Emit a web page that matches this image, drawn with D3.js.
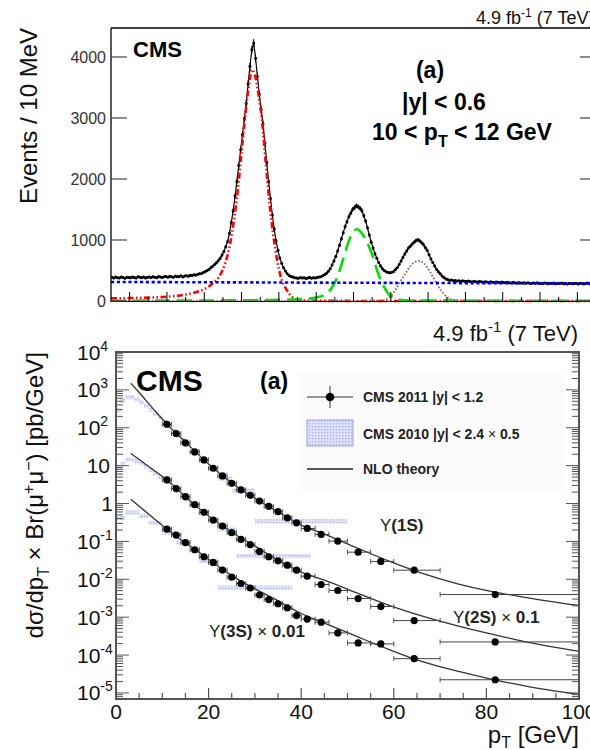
<!DOCTYPE html>
<html><head><meta charset="utf-8">
<script src="https://cdn.jsdelivr.net/npm/d3@7"></script>
<style>
body{margin:0;background:#fff}
svg{display:block;font-family:"Liberation Sans",Arial,Helvetica,sans-serif}
</style>
</head><body><svg id="c" width="590" height="750"></svg>
<script>
// ================= DATA: top panel (dimuon mass spectrum) =================
const massStart = 8.70;   // GeV, lower edge of first bin
const binWidth = 0.01;    // 10 MeV bins
const counts = [
 388,375,392,381,379,395,384,372,390,386,
 380,393,387,376,398,389,383,395,378,391,
 394,385,399,388,381,402,392,386,397,400,
 391,404,396,389,408,399,403,412,395,410,
 414,405,421,418,430,425,439,447,452,468,
 480,498,515,545,570,598,625,660,700,752,
 810,890,975,1110,1290,1480,1720,1960,2220,2480,
 2730,2990,3240,3560,3850,4120,4230,3980,3680,3390,
 3140,2900,2580,2270,1960,1680,1410,1180,985,830,
 705,620,545,490,445,420,400,392,383,378,
 372,385,376,381,369,378,388,374,383,379,
 386,392,398,415,432,455,488,530,590,655,
 730,820,915,1020,1120,1220,1300,1380,1440,1500,
 1530,1560,1545,1520,1480,1400,1310,1200,1080,965,
 870,775,700,630,575,530,500,478,468,462,
 470,485,515,550,600,655,715,770,820,868,
 900,935,965,990,1005,985,958,925,875,830,
 760,690,632,575,520,478,445,410,385,362,
 352,340,345,331,336,328,333,322,330,325,
 318,327,320,313,324,316,310,321,314,308,
 317,312,305,315,309,302,313,306,300,310,
 304,298,308,301,296,305,299,292,303,297,
 294,301,290,298,293,287,296,291,299,288,
 293,285,297,289,283,292,286,295,281,290,
 287,294,284,291,279,288,293,283,289,286,
 280,291,285,278,289,294,284,288,282,290
];
const compMass = [8.70,8.80,8.90,9.00,9.10,9.15,9.20,9.25,9.28,9.31,9.34,9.36,9.38,9.40,9.42,9.44,9.455,9.47,9.49,9.51,
 9.53,9.55,9.57,9.59,9.61,9.64,9.67,9.70,9.75,9.80,9.84,9.88,9.91,9.94,9.97,10.00,10.02,10.04,10.07,10.10,
 10.13,10.16,10.19,10.22,10.25,10.28,10.31,10.35,10.38,10.41,10.44,10.47,10.50,10.53,10.60,10.80,11.00,11.30];
const comp1S = [42,48,55,70,105,140,195,300,400,600,960,1350,1820,2450,3050,3550,3790,3720,3400,2950,
 2250,1600,1080,680,400,190,70,22,6,3,2,2,2,2,2,1,1,1,1,1,
 1,1,1,1,1,1,1,1,1,1,1,1,1,1,1,1,1,1];
const comp2S = [5,5,6,6,7,7,8,8,9,9,10,10,11,11,12,12,13,13,14,15,
 16,16,17,18,19,21,23,26,35,58,95,200,370,640,940,1140,1175,1130,980,760,
 470,250,110,45,20,12,9,8,7,7,6,6,6,5,5,4,4,3];
const comp3S = [1,1,1,1,1,1,1,1,1,1,1,1,1,1,1,1,1,1,1,1,
 1,1,1,1,1,2,2,2,2,2,2,2,2,2,2,2,2,2,3,4,
 6,12,50,160,316,460,590,656,610,480,320,170,70,25,6,2,1,1];
const compBkg = [312,311,310,309,308,308,307,307,307,306,306,306,306,305,305,305,305,305,304,304,
 304,304,304,303,303,303,303,302,302,301,301,300,300,300,299,299,299,299,298,298,
 298,297,297,297,296,296,296,295,295,295,295,294,294,294,293,291,290,288];
const countTicks = [0,1000,2000,3000,4000];

// ================= DATA: bottom panel (cross sections) =================
const ptLo2011 = [10,12,14,16,18,20,22,24,26,28,30,32,34,36,38,40,43,46,50,55,60,70];
const ptHi2011 = [12,14,16,18,20,22,24,26,28,30,32,34,36,38,40,43,46,50,55,60,70,100];
const ptMean2011 = [11,13,15,17,19,21,23,25,27,29,31,33,35,37,39,41.3,44.3,47.9,52.3,57.2,64.4,81.9];
const xs1S = [124,70.6,39.9,23.0,14.2,8.53,5.34,3.42,2.28,1.65,1.16,0.84,0.61,0.42,0.31,0.22,0.153,0.102,0.052,0.0296,0.0174,0.00396];
const xs2S = [4.19,2.48,1.52,0.935,0.585,0.366,0.254,0.170,0.113,0.0818,0.0543,0.0394,0.0308,0.0236,0.0174,0.0121,0.00728,0.00506,0.0031,0.00191,0.000813,0.000222];
const xs3S = [0.211,0.147,0.0924,0.0603,0.0394,0.0278,0.0176,0.0114,0.00774,0.00589,0.00385,0.00292,0.00226,0.00176,0.0011,0.00089,0.00074,0.000385,0.000209,0.000197,0.0000804,0.0000223];

const theoryPt = [3.2,5,8,11,15,20,25,30,35,40,45,52,59,66,74,81,88,100];
const theory1S = [1500,850,320,125,42,11.0,3.5,1.38,0.6,0.27,0.155,0.068,0.030,0.0145,0.0075,0.0048,0.0034,0.00203];
const theory2S = [21,14.6,7.8,4.2,1.52,0.47,0.175,0.075,0.032,0.0155,0.0095,0.0044,0.00205,0.00108,0.00058,0.00036,0.00023,0.000125];
const theory3S = [1.3,0.85,0.42,0.21,0.092,0.034,0.0125,0.0056,0.0027,0.00125,0.0007,0.00031,0.00014,0.000068,0.000037,0.0000233,0.0000155,0.000009];

const band1S_lo = [0,1,2,3,4,5,6,7,8,9,10,11,12,13,14,15,16,18,20,22,25,30];
const band1S_hi = [1,2,3,4,5,6,7,8,9,10,11,12,13,14,15,16,18,20,22,25,30,50];
const band1S_val = [290,520,640,640,560,470,380,300,235,185,145,110,82,62,46,35,24,14,8.6,4.6,2.2,0.34];
const band2S_lo = [0,1,2,3,4,5,6,7,8,9,10,11,12,13,14,15,16,18,20,22,26];
const band2S_hi = [1,2,3,4,5,6,7,8,9,10,11,12,13,14,15,16,18,20,22,26,42];
const band2S_val = [9,11,14.5,14.5,13,11.5,9.5,7.8,6.3,5,4.6,3.6,2.8,2.2,1.7,1.3,0.95,0.6,0.38,0.207,0.041];
const band3S_lo = [0,2,5,7,10,13,16,18,22];
const band3S_hi = [2,5,7,10,13,16,18,22,38];
const band3S_val = [0.41,0.58,0.47,0.31,0.17,0.095,0.061,0.030,0.006];

const ptTicks = [0,20,40,60,80,100];

// ================= DRAWING =================
const svg = d3.select("#c");
const defs = svg.append("defs");
defs.append("clipPath").attr("id","clipTop").append("rect")
  .attr("x",111).attr("y",20).attr("width",485).attr("height",283);
defs.append("clipPath").attr("id","clipBot").append("rect")
  .attr("x",116).attr("y",352).attr("width",463).attr("height",347);
const pat = defs.append("pattern").attr("id","dots").attr("patternUnits","userSpaceOnUse")
  .attr("width",3).attr("height",3);
pat.append("rect").attr("width",3).attr("height",3).attr("fill","#dfe1fa");
pat.append("rect").attr("width",1.3).attr("height",1.3).attr("fill","#a7acec");

// ---------- TOP PANEL ----------
const xm = d3.scaleLinear().domain([8.7, 11.3]).range([111, 596]);
const yc = d3.scaleLinear().domain([0, 4475]).range([301, 28]);
const gt = svg.append("g");

const pts = counts.map((c,i)=>({m: massStart + binWidth*(i+0.5), c}));
const gData = gt.append("g").attr("clip-path","url(#clipTop)");
gData.append("path").datum(pts)
  .attr("d", d3.line().x(d=>xm(d.m)).y(d=>yc(d.c)))
  .attr("fill","none").attr("stroke","#000").attr("stroke-width",1.2);
gData.selectAll("line.ev").data(pts).join("line").attr("class","ev")
  .attr("x1",d=>xm(d.m)).attr("x2",d=>xm(d.m))
  .attr("y1",d=>yc(d.c+Math.sqrt(d.c))).attr("y2",d=>yc(d.c-Math.sqrt(d.c)))
  .attr("stroke","#000").attr("stroke-width",1);
gData.selectAll("circle").data(pts).join("circle")
  .attr("cx",d=>xm(d.m)).attr("cy",d=>yc(d.c)).attr("r",1.5).attr("fill","#000");

const comps = [
  {v: comp1S, color:"#ff0000", dash:"6,2.5,1.5,2.5,1.5,2.5", w:2.6},
  {v: comp2S, color:"#00dd00", dash:"15,7", w:2.6},
  {v: comp3S, color:"#9c6c5a", dash:"1.6,1.8", w:2},
  {v: compBkg, color:"#0000ff", dash:"3.2,2.6", w:2.6}
];
const gComp = gt.append("g").attr("clip-path","url(#clipTop)");
comps.forEach(cp=>{
  gComp.append("path").datum(compMass.map((m,i)=>[m, cp.v[i]]))
    .attr("d", d3.line().x(d=>xm(d[0])).y(d=>yc(d[1])).curve(d3.curveMonotoneX))
    .attr("fill","none").attr("stroke",cp.color).attr("stroke-width",cp.w)
    .attr("stroke-dasharray",cp.dash);
});

// frame
gt.append("line").attr("x1",111).attr("x2",596).attr("y1",28).attr("y2",28).attr("stroke","#000").attr("stroke-width",1.3);
gt.append("line").attr("x1",111).attr("x2",111).attr("y1",28).attr("y2",302).attr("stroke","#000").attr("stroke-width",1.3);
gt.append("line").attr("x1",111).attr("x2",596).attr("y1",301.5).attr("y2",301.5).attr("stroke","#000").attr("stroke-width",1);
// y ticks
countTicks.forEach(t=>{
  const y = yc(t);
  gt.append("line").attr("x1",111).attr("x2",127).attr("y1",y).attr("y2",y).attr("stroke","#444").attr("stroke-width",1.2);
  gt.append("line").attr("x1",580).attr("x2",596).attr("y1",y).attr("y2",y).attr("stroke","#444").attr("stroke-width",1.2);
  gt.append("text").attr("x",106).attr("y",y).attr("dy","0.36em").attr("text-anchor","end")
    .attr("font-size",16).attr("fill","#333").text(t);
});
// x ticks (bottom)
d3.range(8.8, 11.3, 0.1).forEach(m=>{
  const major = Math.abs(m*5 - Math.round(m*5)) < 1e-6;
  gt.append("line").attr("x1",xm(m)).attr("x2",xm(m)).attr("y1",301).attr("y2",301-(major?9:4))
    .attr("stroke","#000").attr("stroke-width",1);
});
// texts
gt.append("text").attr("x",133).attr("y",57).attr("font-size",22).attr("font-weight","bold").text("CMS");
gt.append("text").attr("x",430).attr("y",78).attr("text-anchor","middle").attr("font-size",23).attr("font-weight","bold").text("(a)");
gt.append("text").attr("x",444).attr("y",110).attr("text-anchor","middle").attr("font-size",23).attr("font-weight","bold").text("|y| < 0.6");
const tpt = gt.append("text").attr("x",462).attr("y",140).attr("text-anchor","middle").attr("font-size",23).attr("font-weight","bold");
tpt.append("tspan").text("10 < p");
tpt.append("tspan").attr("font-size",16).attr("dy",7).text("T");
tpt.append("tspan").attr("dy",-7).text(" < 12 GeV");
const tl = gt.append("text").attr("x",476).attr("y",24).attr("font-size",18).attr("fill","#111");
tl.append("tspan").text("4.9 fb");
tl.append("tspan").attr("font-size",12).attr("dy",-7).text("-1");
tl.append("tspan").attr("dy",7).text(" (7 TeV)");
gt.append("text").attr("transform","translate(37,28) rotate(-90)").attr("text-anchor","end")
  .attr("font-size",24).attr("fill","#111").text("Events / 10 MeV");

// ---------- BOTTOM PANEL ----------
const xp = d3.scaleLinear().domain([0,100]).range([116,579]);
const yl = d3.scaleLog().domain([Math.pow(10,-5.16), 1e4]).range([699,352]);
const gb = svg.append("g");

// legend background
gb.append("rect").attr("x",298).attr("y",372).attr("width",266).attr("height",118).attr("fill","#fbfbfb");

const gPlot = gb.append("g").attr("clip-path","url(#clipBot)");

// 2010 bands
const bandH = 0.055;
[[band1S_lo,band1S_hi,band1S_val],[band2S_lo,band2S_hi,band2S_val],[band3S_lo,band3S_hi,band3S_val]].forEach(([lo,hi,val])=>{
  gPlot.selectAll(null).data(val.map((v,i)=>({lo:lo[i],hi:hi[i],v}))).join("rect")
    .attr("x",d=>xp(d.lo)).attr("width",d=>xp(d.hi)-xp(d.lo))
    .attr("y",d=>yl(d.v*Math.pow(10,bandH))).attr("height",d=>yl(d.v/Math.pow(10,bandH))-yl(d.v*Math.pow(10,bandH)))
    .attr("fill","url(#dots)").attr("opacity",0.95);
});

// theory curves
[theory1S,theory2S,theory3S].forEach(th=>{
  gPlot.append("path").datum(theoryPt.map((p,i)=>[p,th[i]]))
    .attr("d", d3.line().x(d=>xp(d[0])).y(d=>yl(d[1])).curve(d3.curveMonotoneX))
    .attr("fill","none").attr("stroke","#333").attr("stroke-width",1.3);
});

// 2011 points
[xs1S,xs2S,xs3S].forEach(xs=>{
  const d = xs.map((v,i)=>({lo:ptLo2011[i],hi:ptHi2011[i],m:ptMean2011[i],v}));
  const g = gPlot.append("g");
  g.selectAll("line.h").data(d).join("line").attr("class","h")
    .attr("x1",e=>xp(e.lo)).attr("x2",e=>xp(e.hi)).attr("y1",e=>yl(e.v)).attr("y2",e=>yl(e.v))
    .attr("stroke","#444").attr("stroke-width",1);
  g.selectAll("line.c1").data(d).join("line").attr("class","c1")
    .attr("x1",e=>xp(e.lo)).attr("x2",e=>xp(e.lo)).attr("y1",e=>yl(e.v)-2.5).attr("y2",e=>yl(e.v)+2.5)
    .attr("stroke","#555").attr("stroke-width",1);
  g.selectAll("line.c2").data(d).join("line").attr("class","c2")
    .attr("x1",e=>xp(e.hi)).attr("x2",e=>xp(e.hi)).attr("y1",e=>yl(e.v)-2.5).attr("y2",e=>yl(e.v)+2.5)
    .attr("stroke","#555").attr("stroke-width",1);
  g.selectAll("circle").data(d).join("circle")
    .attr("cx",e=>xp(e.m)).attr("cy",e=>yl(e.v)).attr("r",3.6).attr("fill","#000");
});

// frame
gb.append("rect").attr("x",116).attr("y",352).attr("width",463).attr("height",347)
  .attr("fill","none").attr("stroke","#555").attr("stroke-width",2);
// log ticks
for(let dec=-6; dec<=4; dec++){
  for(let k=1;k<=9;k++){
    const v = k*Math.pow(10,dec);
    if(v < yl.domain()[0]*0.999 || v > 1e4*1.001) continue;
    const y = yl(v), len = k===1?13:7;
    gb.append("line").attr("x1",116).attr("x2",116+len).attr("y1",y).attr("y2",y).attr("stroke","#555").attr("stroke-width",1);
    gb.append("line").attr("x1",579-len).attr("x2",579).attr("y1",y).attr("y2",y).attr("stroke","#555").attr("stroke-width",1);
  }
}
// x ticks
d3.range(0,101,5).forEach(p=>{
  const major = p%20===0;
  gb.append("line").attr("x1",xp(p)).attr("x2",xp(p)).attr("y1",699).attr("y2",699-(major?11:6))
    .attr("stroke","#555").attr("stroke-width",1.2);
});
ptTicks.forEach(p=>{
  gb.append("text").attr("x",xp(p)).attr("y",719).attr("text-anchor","middle").attr("font-size",21).attr("fill","#111").text(p);
});
// y labels
for(let e=-5;e<=4;e++){
  const y = yl(Math.pow(10,e));
  if(e===0){ gb.append("text").attr("x",113).attr("y",y).attr("dy","0.36em").attr("text-anchor","end").attr("font-size",21).attr("fill","#111").text("1"); continue; }
  if(e===1){ gb.append("text").attr("x",110).attr("y",y).attr("dy","0.36em").attr("text-anchor","end").attr("font-size",21).attr("fill","#111").text("10"); continue; }
  const t = gb.append("text").attr("x",77).attr("y",y).attr("dy","0.36em").attr("font-size",21).attr("fill","#111");
  t.append("tspan").text("10");
  t.append("tspan").attr("font-size",14).attr("dy",-9).text(e<0 ? "-"+(-e) : String(e));
}
// axis titles
const xt = gb.append("text").attr("x",579).attr("y",743).attr("text-anchor","end").attr("font-size",24).attr("fill","#111");
xt.append("tspan").text("p");
xt.append("tspan").attr("font-size",16).attr("dy",5).text("T");
xt.append("tspan").attr("dy",-5).text(" [GeV]");
const yt = gb.append("text").attr("transform","translate(43,352) rotate(-90)").attr("text-anchor","end").attr("font-size",24).attr("fill","#111");
yt.append("tspan").text("dσ/dp");
yt.append("tspan").attr("font-size",16).attr("dy",6).text("T");
yt.append("tspan").attr("dy",-6).text(" × Br(μ");
yt.append("tspan").attr("font-size",16).attr("dy",-9).text("+");
yt.append("tspan").attr("dy",9).text("μ");
yt.append("tspan").attr("font-size",16).attr("dy",-9).text("−");
yt.append("tspan").attr("dy",9).text(") [pb/GeV]");
const lum = gb.append("text").attr("x",578).attr("y",341).attr("text-anchor","end").attr("font-size",22).attr("fill","#111");
lum.append("tspan").text("4.9 fb");
lum.append("tspan").attr("font-size",15).attr("dy",-9).text("-1");
lum.append("tspan").attr("dy",9).text(" (7 TeV)");

gb.append("text").attr("x",136).attr("y",391).attr("font-size",30).attr("font-weight","bold").text("CMS");
gb.append("text").attr("x",260).attr("y",389).attr("font-size",23).attr("font-weight","bold").text("(a)");

// legend
const lg = gb.append("g");
lg.append("line").attr("x1",307).attr("x2",353).attr("y1",397).attr("y2",397).attr("stroke","#333").attr("stroke-width",1);
lg.append("line").attr("x1",330).attr("x2",330).attr("y1",386).attr("y2",408).attr("stroke","#333").attr("stroke-width",1);
lg.append("circle").attr("cx",330).attr("cy",397).attr("r",4.3).attr("fill","#000");
lg.append("rect").attr("x",307).attr("y",420).attr("width",46).attr("height",26).attr("fill","url(#dots)").attr("stroke","#9ba1ea").attr("stroke-width",1);
lg.append("line").attr("x1",307).attr("x2",353).attr("y1",469).attr("y2",469).attr("stroke","#222").attr("stroke-width",1.3);
lg.append("text").attr("x",363).attr("y",402).attr("font-size",14).attr("font-weight","bold").attr("fill","#222").text("CMS 2011 |y| < 1.2");
const l2 = lg.append("text").attr("x",363).attr("y",439).attr("font-size",14).attr("font-weight","bold").attr("fill","#222");
l2.append("tspan").text("CMS 2010 |y| < 2.4  ");
l2.append("tspan").attr("font-weight","normal").text("×");
l2.append("tspan").text(" 0.5");
lg.append("text").attr("x",363).attr("y",474).attr("font-size",14).attr("font-weight","bold").attr("fill","#222").text("NLO theory");

// state labels
function upsLabel(x,y,state,factor){
  const t = gb.append("text").attr("x",x).attr("y",y).attr("font-size",17).attr("fill","#222");
  t.append("tspan").text("Υ");
  t.append("tspan").attr("font-weight","bold").text("("+state+")");
  if(factor){
    t.append("tspan").text("  ×");
    t.append("tspan").attr("font-weight","bold").text(" "+factor);
  }
}
upsLabel(380,531,"1S",null);
upsLabel(453,623,"2S","0.1");
upsLabel(209,637,"3S","0.01");
</script>
</body></html>
